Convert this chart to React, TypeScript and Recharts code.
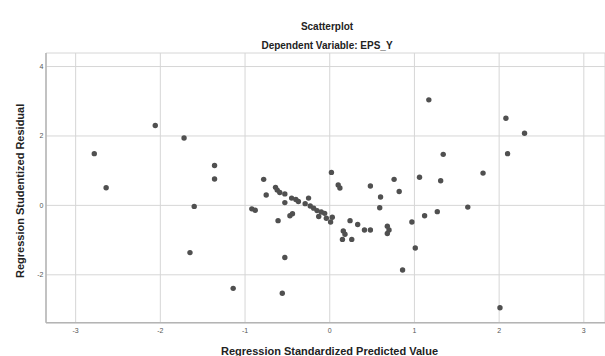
import React from 'react';
import { ScatterChart, Scatter, XAxis, YAxis, CartesianGrid } from 'recharts';

const predictedValues: number[] = [
  -2.78, -2.64, -2.06, -1.72, -1.36, -1.36, -1.60, -1.65, -1.14, -0.56,
  -0.53, -0.78, -0.75, -0.92, -0.88, -0.61, -0.47, -0.44, -0.64, -0.62,
  -0.59, -0.53, -0.53, -0.45, -0.40, -0.37, -0.25, -0.29, -0.23, -0.19,
  -0.15, -0.10, -0.06, -0.13, -0.04, 0.01, 0.03, 0.02, 0.10, 0.12,
  0.24, 0.33, 0.16, 0.18, 0.15, 0.26, 0.41, 0.48, 0.68, 0.70,
  0.68, 0.48, 0.60, 0.59, 0.76, 0.82, 0.97, 1.01, 0.86, 1.17,
  1.06, 1.12, 1.27, 1.31, 1.34, 1.63, 1.81, 2.08, 2.10, 2.30,
  2.01,
];

const studentizedResiduals: number[] = [
  1.49, 0.51, 2.30, 1.94, 1.15, 0.76, -0.03, -1.36, -2.39, -2.53,
  -1.50, 0.75, 0.30, -0.10, -0.14, -0.44, -0.30, -0.24, 0.52, 0.44,
  0.37, 0.33, 0.08, 0.21, 0.17, 0.11, 0.21, 0.05, -0.02, -0.08,
  -0.15, -0.19, -0.23, -0.32, -0.37, -0.48, -0.34, 0.95, 0.59, 0.50,
  -0.44, -0.55, -0.74, -0.83, -0.98, -0.98, -0.71, -0.71, -0.60, -0.71,
  -0.81, 0.56, 0.24, -0.07, 0.75, 0.40, -0.48, -1.23, -1.86, 3.04,
  0.81, -0.30, -0.18, 0.71, 1.47, -0.05, 0.93, 2.51, 1.49, 2.08,
  -2.95,
];

const xTicks: number[] = [-3, -2, -1, 0, 1, 2, 3];
const yTicks: number[] = [-2, 0, 2, 4];

const titleText = 'Scatterplot';
const subtitleText = 'Dependent Variable: EPS_Y';
const xAxisTitle = 'Regression Standardized Predicted Value';
const yAxisTitle = 'Regression Studentized Residual';

const points = predictedValues.map((x, i) => ({ x, y: studentizedResiduals[i] }));

const FONT = '"Liberation Sans", Arial, sans-serif';

const Dot = (props: any) => {
  const { cx, cy } = props;
  if (cx == null || cy == null) return null;
  return <circle cx={cx} cy={cy} r={2.7} fill="#505050" />;
};

export default function App() {
  return (
    <div
      style={{
        position: 'absolute',
        left: 0,
        top: 0,
        width: 605,
        height: 356,
        background: '#ffffff',
        fontFamily: FONT,
        overflow: 'hidden',
      }}
    >
      <div
        style={{
          position: 'absolute',
          top: 21,
          left: 0,
          width: 654,
          textAlign: 'center',
          fontSize: 10,
          fontWeight: 'bold',
          color: '#222',
          lineHeight: '12px',
        }}
      >
        {titleText}
      </div>
      <div
        style={{
          position: 'absolute',
          top: 40,
          left: 0,
          width: 654,
          textAlign: 'center',
          fontSize: 10,
          fontWeight: 'bold',
          color: '#222',
          lineHeight: '12px',
        }}
      >
        {subtitleText}
      </div>
      <ScatterChart
        width={605}
        height={356}
        margin={{ top: 53, right: 0, bottom: 0, left: 0 }}
        style={{ fontFamily: FONT }}
      >
        <CartesianGrid stroke="#d6d6d6" strokeWidth={1} />
        <XAxis
          type="number"
          dataKey="x"
          domain={[-3.35, 3.25]}
          ticks={xTicks}
          allowDataOverflow
          height={33.3}
          tickLine={false}
          tickSize={0}
          tickMargin={5}
          axisLine={{ stroke: '#b4b4b4', strokeWidth: 1.5 }}
          tick={{ fontSize: 7, fill: '#555' }}
          label={{
            value: xAxisTitle,
            position: 'insideBottom',
            offset: 1,
            dx: 4,
            style: { fontSize: 11, fontWeight: 'bold', fill: '#222', fontFamily: FONT },
          }}
        />
        <YAxis
          type="number"
          dataKey="y"
          domain={[-3.38, 4.39]}
          ticks={yTicks}
          allowDataOverflow
          width={46}
          tickLine={false}
          tickSize={0}
          tickMargin={2.5}
          axisLine={{ stroke: '#b4b4b4', strokeWidth: 1.5 }}
          tick={{ fontSize: 7, fill: '#555' }}
          label={{
            value: yAxisTitle,
            angle: -90,
            position: 'insideLeft',
            offset: 20,
            dy: 3,
            style: { fontSize: 11, fontWeight: 'bold', fill: '#222', textAnchor: 'middle', fontFamily: FONT },
          }}
        />
        <Scatter data={points} shape={Dot} isAnimationActive={false} />
      </ScatterChart>
    </div>
  );
}
